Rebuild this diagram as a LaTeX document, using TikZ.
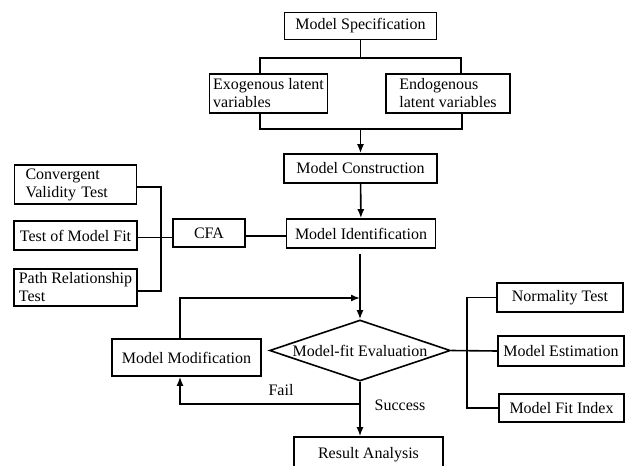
\documentclass[tikz,border=0pt]{standalone}
\usepackage{fontspec}
\setmainfont{Liberation Serif}
\usetikzlibrary{shapes.geometric,arrows.meta}

\begin{document}
\begin{tikzpicture}[x=1pt,y=-1pt,
	font=\fontsize{16}{18}\selectfont,
	line width=1.6pt,
	box/.style={draw, rectangle, inner sep=2pt},
	twoline/.style={box, align=left, inner xsep=1pt},
	decision/.style={draw, diamond, aspect=3, inner sep=0pt, minimum width=181pt, minimum height=61pt},
	arr/.style={-{Latex[length=9pt,width=7pt]}},
	lbl/.style={inner sep=0pt}]
	\path[use as bounding box] (0,0) rectangle (630,466);
	\clip (0,0) rectangle (630,466);

	% Top part: specification and latent variables
	\node[box, minimum width=152pt, minimum height=27pt] (spec) at (360.5,26) {Model Specification};
	\node[twoline, minimum width=118pt, minimum height=39pt] (exo) at (268.5,93.5) {Exogenous latent\\variables};
	\node[twoline, minimum width=124pt, minimum height=39pt] (endo) at (448,93.5) {Endogenous\\latent variables};
	\node[box, minimum width=153pt, minimum height=29pt] (cons) at (360.5,168.5) {Model Construction};
	\node[box, minimum width=149pt, minimum height=29pt] (ident) at (361,233.5) {Model Identification};

	% Left side: CFA and its tests
	\node[box, minimum width=72pt, minimum height=28pt] (cfa) at (209,233) {CFA};
	\node[box, align=left, text width=100pt, inner xsep=11pt, minimum height=39pt] (conv) at (75.5,184.5) {Convergent\\Validity Test};
	\node[box, minimum width=123pt, minimum height=29pt] (fit) at (75.5,235.5) {Test of Model Fit};
	\node[twoline, minimum width=123pt, minimum height=37pt] (path) at (75.5,287.5) {Path Relationship\\Test};

	% Evaluation loop
	\node[decision] (eval) at (360,350.5) {Model-fit Evaluation};
	\node[box, minimum width=149pt, minimum height=37pt] (modif) at (186.5,357.5) {Model Modification};
	\node[box, minimum width=149pt, minimum height=36pt] (result) at (368.5,455) {Result Analysis};

	% Right side
	\node[box, minimum width=126pt, minimum height=29pt] (norm) at (560,297.5) {Normality Test};
	\node[box, minimum width=126pt, minimum height=30pt] (estim) at (561,351) {Model Estimation};
	\node[box, minimum width=125pt, minimum height=28pt] (index) at (561.5,408) {Model Fit Index};

	\coordinate (forkL) at (260,58);
	\coordinate (forkR) at (461,58);
	\coordinate (joinL) at (260,129);
	\coordinate (joinR) at (462,129);
	\coordinate (brkT) at (161,187);
	\coordinate (brkM) at (161,237.5);
	\coordinate (brkB) at (161,291);
	\coordinate (gap) at (360,254);
	\coordinate (loop) at (180,298);
	\coordinate (failpt) at (360,404);
	\coordinate (rT) at (467,297.5);
	\coordinate (rB) at (467,408);

	\draw (spec.south) -- (spec.south |- forkL);
	\draw (exo.north -| forkL) -- (forkL) -- (forkR) -- (endo.north -| forkR);
	\draw (exo.south -| joinL) -- (joinL) -- (joinR) -- (endo.south -| joinR);
	\draw[arr] (cons.north |- joinL) -- (cons.north);
	\draw[arr] (cons) -- (ident);

	\draw (conv.east |- brkT) -- (brkT) -- (brkB) -- (path.east |- brkB);
	\draw (fit.east |- brkM) -- (cfa.west |- brkM);
	\draw (cfa.east |- 0,236) -- (ident.west |- 0,236);

	\draw[arr] (gap) -- (eval.north);
	\draw[arr] (modif.north -| loop) -- (loop) -- (gap |- loop);
	\draw[arr] (failpt) -- (failpt -| loop) -- (modif.south -| loop);
	\draw[arr] (eval.south) -- (result.north -| eval.south);
	\node[lbl] (fail) at (281,390) {Fail};
	\node[lbl] (succ) at (400,405) {Success};

	\draw (eval.east) -- (estim.west);
	\draw (norm.west) -- (rT) -- (rB) -- (index.west);
\end{tikzpicture}
\end{document}
